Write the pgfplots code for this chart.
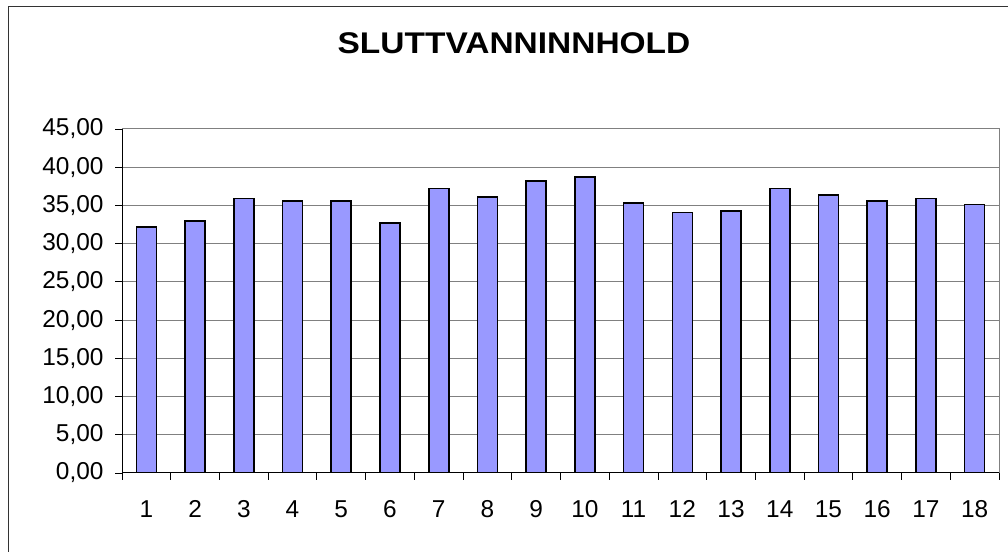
\documentclass[border=0pt]{standalone}
\usepackage{pgfplots}
\pgfplotsset{compat=1.18}
\usepackage{fontspec}
\setmainfont{Liberation Sans}
\definecolor{barfill}{HTML}{9999FF}
\definecolor{gridgray}{HTML}{808080}
\begin{document}
\begin{tikzpicture}[x=1bp,y=1bp]
\path[use as bounding box] (0,0) rectangle (1008,552);
\draw[line width=1bp, black!80] (8,0) -- (8,545) -- (1010,545);
\node[anchor=base, font=\fontsize{30}{34}\selectfont\bfseries, xscale=1.12] at (514,498) {SLUTTVANNINNHOLD};
\begin{axis}[
  at={(122bp,79bp)}, anchor=south west,
  scale only axis, width=877bp, height=344bp,
  xmin=0.5, xmax=18.5, ymin=0, ymax=45,
  ybar, bar width=20bp,
  xtick={1,...,18},
  minor xtick={0.5,1.5,...,18.5},
  xtick pos=bottom, ytick pos=left,
  major x tick style={draw=none},
  minor x tick style={black, line width=0.8bp},
  ytick={0,5,...,45},
  ytick style={black, line width=0.8bp},
  tick align=outside,
  major tick length=7bp, minor tick length=7bp,
  ymajorgrids, grid style={gridgray, line width=1bp},
  axis line style={gridgray, line width=1bp},
  tick label style={font=\fontsize{24.5}{28}\selectfont},
  yticklabel style={/pgf/number format/fixed, /pgf/number format/fixed zerofill, /pgf/number format/precision=2, /pgf/number format/use comma, /pgf/number format/assume math mode=true, xshift=-8bp},
  xticklabel style={/pgf/number format/assume math mode=true, yshift=-17bp},
]
\addplot[fill=barfill, draw=black, line width=1.6bp] coordinates {
(1,32.2) (2,33.0) (3,35.9) (4,35.6) (5,35.6) (6,32.7) (7,37.2) (8,36.1) (9,38.2)
(10,38.7) (11,35.3) (12,34.1) (13,34.3) (14,37.2) (15,36.4) (16,35.6) (17,35.9) (18,35.1)
};
\draw[black, line width=1bp] (rel axis cs:0,0) -- (rel axis cs:0,1);
\draw[black, line width=1bp] (rel axis cs:0,0) -- (rel axis cs:1,0);
\end{axis}
\end{tikzpicture}
\end{document}
